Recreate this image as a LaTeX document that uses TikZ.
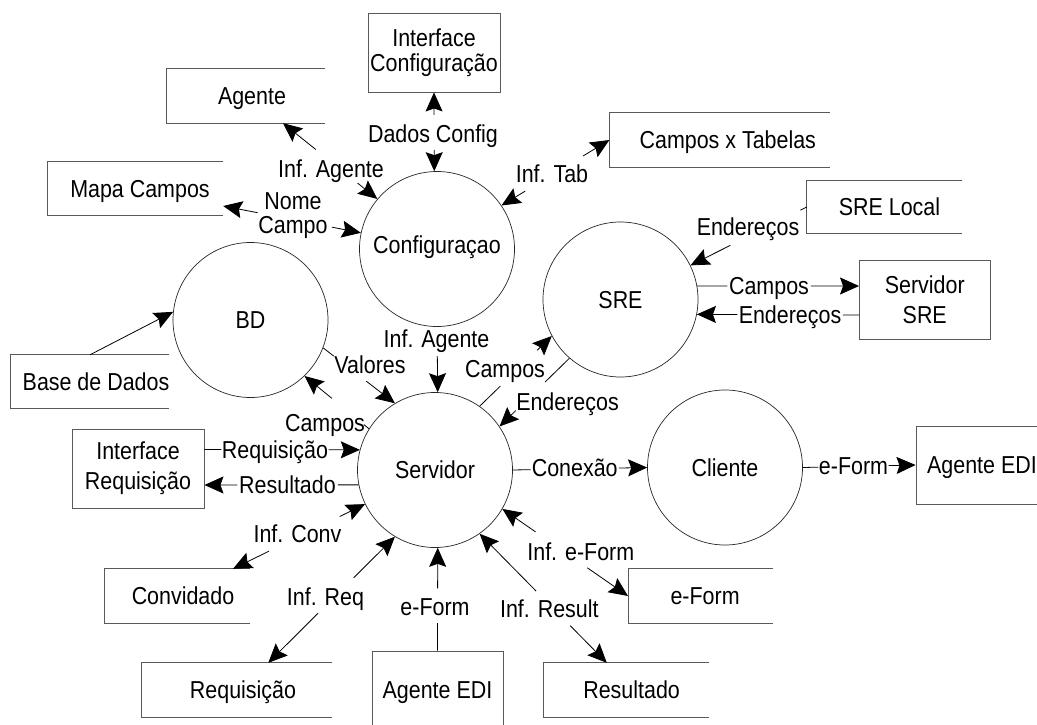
\documentclass[tikz,border=0pt]{standalone}
\usepackage{fontspec}
\setmainfont{Liberation Sans}[FakeStretch=0.875]
\usetikzlibrary{arrows.meta,calc}
\newcommand{\dfdflow}[6]{%
  \draw[#1] (#3) -- ($(#3)!#5!(#4)$);
  \draw[#2] ($(#3)!#6!(#4)$) -- (#4);}
\newcommand{\openbx}[1]{\draw[bxline] (#1.north east) -- (#1.north west) -- (#1.south west) -- (#1.south east);}
\begin{document}
\begin{tikzpicture}[x=1pt,y=-1pt,
  every node/.style={font=\fontsize{24.5}{24}\selectfont},
  ln/.style={line width=0.8pt, draw=black},
  ar0/.style={ln, {Stealth[length=19pt,width=17pt,inset=3pt]}-},
  ar1/.style={ln, -{Stealth[length=19pt,width=17pt,inset=3pt]}},
  proc/.style={circle, draw=black!85, line width=0.7pt, minimum size=155pt, inner sep=0pt, text height=17.5pt, text depth=0pt},
  bxline/.style={draw=black!65, line width=0.9pt},
  fbox/.style={rectangle, bxline, inner sep=0pt, align=center},
  obox/.style={rectangle, inner sep=0pt, text height=17.5pt, text depth=0pt},
  lbl/.style={inner sep=0pt, text height=17.5pt, text depth=0pt}]
\useasboundingbox (0,0) rectangle (1037,725);
\clip (0,0) rectangle (1037,725);

% processes
\node[proc, text depth=8.5pt] (conf) at (437,249) {Configuraçao};
\node[proc] (bd)  at (250.5,320) {BD};
\node[proc] (sre) at (620.5,299.5) {SRE};
\node[proc] (srv) at (435,470) {Servidor};
\node[proc] (cli) at (725,467.5) {Cliente};

% boxes
\node[fbox, minimum width=132pt, minimum height=79pt, font=\fontsize{24.5}{25}\selectfont] (ic) at (434,52.5) {Interface\\Configuração};
\node[obox, minimum width=158pt, minimum height=54pt] (agente) at (246,96) {\hspace*{12pt}Agente};
\node[obox, minimum width=175pt, minimum height=53pt] (mapa) at (135.5,188.5) {\hspace*{9pt}Mapa Campos};
\node[obox, minimum width=220.4pt, minimum height=54pt] (cxt) at (719.8,140) {\hspace*{16pt}Campos x Tabelas};
\node[obox, minimum width=155pt, minimum height=52pt] (srelocal) at (884.5,207) {\hspace*{10pt}SRE Local};
\node[fbox, minimum width=130.5pt, minimum height=79pt, font=\fontsize{24.5}{30}\selectfont] (srvsre) at (924.75,299.5) {Servidor\\SRE};
\node[obox, minimum width=158pt, minimum height=53pt] (bdd) at (90,381.5) {\hspace*{12pt}Base de Dados};
\node[fbox, minimum width=132pt, minimum height=79pt, font=\fontsize{24.5}{30}\selectfont] (intreq) at (138,468.5) {Interface\\Requisição};
\node[fbox, minimum width=132pt, minimum height=78pt, text height=17.5pt, text depth=0pt] (aedi1) at (982,465) {Agente EDI};
\node[obox, minimum width=145pt, minimum height=54pt] (conv) at (177.5,596) {\hspace*{11pt}Convidado};
\node[obox, minimum width=190pt, minimum height=54pt] (req) at (237,690) {\hspace*{12pt}Requisição};
\node[fbox, minimum width=131pt, minimum height=78pt, text height=17.5pt, text depth=0pt] (aedi2) at (437.5,690) {Agente EDI};
\node[obox, minimum width=144.8pt, minimum height=54pt] (eform) at (700.6,596) {\hspace*{9pt}e-Form};
\node[obox, minimum width=165pt, minimum height=54pt] (res) at (626.1,690) {\hspace*{11pt}Resultado};

\openbx{agente}
\openbx{mapa}
\openbx{cxt}
\openbx{srelocal}
\openbx{bdd}
\openbx{conv}
\openbx{req}
\openbx{eform}
\openbx{res}

% attachment points
\coordinate (agS) at ([xshift=37pt]agente.south);
\coordinate (mpE) at ([yshift=-17.5pt]mapa.east);
\coordinate (ssA) at ([yshift=13.5pt]srvsre.west);
\coordinate (ssB) at ([yshift=-15.5pt]srvsre.west);
\coordinate (irA) at ([yshift=19pt]intreq.east);
\coordinate (irB) at ([yshift=-16.5pt]intreq.east);
\coordinate (cvN) at ([xshift=55.5pt]conv.north);
\coordinate (rqN) at ([xshift=31.3pt]req.north);
\coordinate (rsN) at ([xshift=-19.3pt]res.north);

% labels
\node[lbl] (lDC) at (433,133.4) {Dados Config};
\node[lbl] (lIA1) at (331,168.4) {Inf. Agente};
\node[inner sep=0pt, align=center, anchor=north, font=\fontsize{24.5}{23.5}\selectfont] (lNC) at (293,192.5) {Nome\\Campo};
\node[lbl] (lIT) at (552,173.4) {Inf. Tab};
\node[lbl] (lE1) at (748,226.7) {Endereços};
\node[lbl] (lC2) at (769,286) {Campos};
\node[lbl] (lE2) at (790,315) {Endereços};
\node[lbl] (lIA2) at (436.5,338.4) {Inf. Agente};
\node[lbl] (lVa) at (370,365) {Valores};
\node[lbl] (lC3) at (325,422.4) {Campos};
\node[lbl] (lC4) at (505,368.4) {Campos};
\node[lbl] (lE3) at (567.5,401.4) {Endereços};
\node[lbl] (lRq) at (275,450) {Requisição};
\node[lbl] (lRs) at (287.5,485) {Resultado};
\node[lbl] (lCx) at (574.7,468) {Conexão};
\node[lbl] (lEF1) at (853.5,466) {e-Form};
\node[lbl] (lIC) at (297.5,533.4) {Inf. Conv};
\node[lbl] (lIR) at (325.5,596.4) {Inf. Req};
\node[lbl] (lEF2) at (435,606.4) {e-Form};
\node[lbl] (lIRs) at (549.3,608.4) {Inf. Result};
\node[lbl] (lIEF) at (580.8,551.7) {Inf. e-Form};

% flows
\dfdflow{ar0}{ar1}{ic.south}{conf.92}{0.285}{0.728}
\dfdflow{ar0}{ar1}{agS}{conf.140}{0.347}{0.79}
\dfdflow{ar0}{ar1}{mpE}{conf.168}{0.25}{0.79}
\dfdflow{ar0}{ar1}{conf.34}{cxt.west}{0.22}{0.756}
\dfdflow{ln}{ar1}{srelocal.west}{sre.26}{0.055}{0.657}
\dfdflow{ln}{ar1}{sre.10}{ssA}{0.186}{0.702}
\dfdflow{ln}{ar1}{ssB}{sre.-11}{0.10}{0.75}
\draw[ar1] ($(conf.south)!0.447!(srv.88)$) -- (srv.88);
\dfdflow{ln}{ar1}{bd.-21}{srv.121}{0.147}{0.60}
\dfdflow{ln}{ar1}{srv.148}{bd.-46}{0.08}{0.576}
\dfdflow{ln}{ar1}{srv.55}{sre.208}{0.286}{0.796}
\dfdflow{ln}{ar1}{sre.229}{srv.34}{0.35}{0.767}
\dfdflow{ln}{ar1}{irA}{srv.165}{0.109}{0.80}
\dfdflow{ln}{ar1}{srv.191}{irB}{0.135}{0.786}
\draw[ar1] (bdd.north) -- (bd.174);
\dfdflow{ln}{ar1}{srv.east}{cli.west}{0.133}{0.79}
\dfdflow{ln}{ar1}{cli.east}{aedi1.west}{0.137}{0.762}
\dfdflow{ar0}{ar1}{cvN}{srv.206}{0.273}{0.808}
\dfdflow{ar0}{ar1}{rqN}{srv.239}{0.393}{0.674}
\dfdflow{ln}{ar1}{aedi2.north}{srv.-88}{0.268}{0.606}
\dfdflow{ar0}{ar1}{rsN}{srv.-55}{0.288}{0.556}
\dfdflow{ar0}{ar1}{eform.west}{srv.-30}{0.324}{0.736}
\end{tikzpicture}
\end{document}
